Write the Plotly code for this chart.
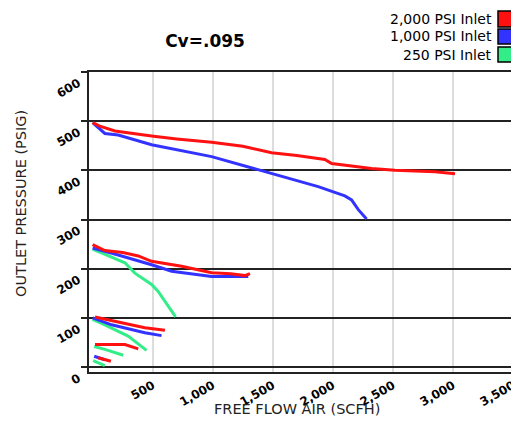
import plotly.graph_objects as go

# ---- data ----
series_names = ["2,000 PSI Inlet", "1,000 PSI Inlet", "250 PSI Inlet"]
series_colors = ["#ff1111", "#3333ff", "#33ee88"]

# 2,000 PSI inlet curves (flow SCFH, outlet PSIG)
red_500_x = [0, 60, 186, 300, 491, 700, 991, 1250, 1490, 1700, 1934, 1990, 2150, 2323, 2517, 2700, 2850, 3017]
red_500_y = [497, 490, 480, 476, 470, 464, 457, 449, 436, 430, 422, 414, 409, 404, 400, 398, 397, 393]
red_250_x = [0, 102, 250, 380, 491, 741, 991, 1150, 1268, 1310]
red_250_y = [249, 237, 233, 226, 215, 205, 192, 190, 186, 190]
red_100_x = [20, 158, 300, 435, 602]
red_100_y = [102, 95, 88, 80, 75]
red_50_x = [20, 150, 269, 380]
red_50_y = [46, 46, 46, 37]
red_25_x = [47, 152]
red_25_y = [19, 12]

# 1,000 PSI inlet curves
blue_500_x = [0, 102, 213, 491, 991, 1379, 1600, 1878, 2100, 2156, 2212, 2281]
blue_500_y = [497, 475, 472, 452, 428, 401, 386, 367, 348, 340, 320, 301]
blue_250_x = [0, 213, 491, 658, 991, 1296]
blue_250_y = [242, 228, 208, 195, 184, 184]
blue_100_x = [0, 158, 435, 574]
blue_100_y = [100, 86, 70, 64]
blue_25_x = [13, 102]
blue_25_y = [22, 15]

# 250 PSI inlet curves
green_250_x = [0, 213, 269, 352, 491, 546, 630, 691]
green_250_y = [240, 218, 212, 191, 168, 154, 124, 102]
green_100_x = [0, 102, 296, 449]
green_100_y = [97, 86, 63, 34]
green_50_x = [13, 102, 255]
green_50_y = [42, 36, 24]
green_25_x = [5, 102]
green_25_y = [13, 3]

x_ticks = [500, 1000, 1500, 2000, 2500, 3000, 3500]
x_ticklabels = ["500", "1,000", "1,500", "2,000", "2,500", "3,000", "3,500"]
y_ticks = [0, 100, 200, 300, 400, 500, 600]
y_ticklabels = ["0", "100", "200", "300", "400", "500", "600"]

segments = [
    (0, red_500_x, red_500_y), (0, red_250_x, red_250_y), (0, red_100_x, red_100_y),
    (0, red_50_x, red_50_y), (0, red_25_x, red_25_y),
    (1, blue_500_x, blue_500_y), (1, blue_250_x, blue_250_y), (1, blue_100_x, blue_100_y),
    (1, blue_25_x, blue_25_y),
    (2, green_250_x, green_250_y), (2, green_100_x, green_100_y),
    (2, green_50_x, green_50_y), (2, green_25_x, green_25_y),
]

fig = go.Figure()
# draw green first, then blue, then red on top
for idx in [2, 1, 0]:
    for s, xs, ys in segments:
        if s != idx:
            continue
        fig.add_trace(go.Scatter(
            x=xs, y=ys, mode="lines", name=series_names[s],
            line=dict(color=series_colors[s], width=3, shape="linear"),
            showlegend=False, hoverinfo="skip"))

# page offset of the figure (default body margin)
OFF = 8
PW, PH = 519, 436
FW, FH = PW - OFF, PH - OFF
# plot area in page pixels: x 89..513, y 72..372
L, R, T, B = 89, 513, 72, 372
W, H = R - L, B - T
def px(x):
    return (x - L) / W
def py(y):
    return (B - y) / H

FONT = "DejaVu Sans"
shapes = []
annotations = []
# legend (text left, swatch right)
leg_rows = [(11, 27), (29, 44), (47, 62)]
for i, (y0, y1) in enumerate(leg_rows):
    shapes.append(dict(type="rect", xref="paper", yref="paper",
                       x0=px(498), x1=px(513), y0=py(y1), y1=py(y0),
                       fillcolor=series_colors[i], line=dict(color="black", width=1.5)))
    annotations.append(dict(xref="paper", yref="paper", x=px(494), y=py((y0 + y1) / 2),
                            text=series_names[i], showarrow=False, xanchor="right",
                            yanchor="middle", font=dict(family=FONT, size=14, color="black")))

# axis titles
annotations.append(dict(xref="paper", yref="paper", x=px(297), y=py(409),
                        text="FREE FLOW AIR (SCFH)", showarrow=False, xanchor="center",
                        yanchor="middle", font=dict(family=FONT, size=14.5, color="#222")))
annotations.append(dict(xref="paper", yref="paper", x=px(21), y=py(204),
                        text="OUTLET PRESSURE (PSIG)", showarrow=False, textangle=-90,
                        xanchor="center", yanchor="middle",
                        font=dict(family=FONT, size=14.5, color="#222")))

fig.update_layout(
    width=FW, height=FH,
    margin=dict(l=L - OFF, r=PW - R, t=T - OFF, b=PH - B, pad=0, autoexpand=False),
    paper_bgcolor="white", plot_bgcolor="white",
    showlegend=False,
    title=dict(text="<b>Cv=.095</b>", x=(205 - OFF) / FW, y=1 - (41 - OFF) / FH, xref="container",
               yref="container", xanchor="center", yanchor="middle",
               font=dict(family=FONT, size=17, color="black")),
    shapes=shapes, annotations=annotations,
    xaxis=dict(range=[-30, 3500], tickvals=x_ticks, ticktext=x_ticklabels, tickangle=-30,
               automargin=False,
               showgrid=True, gridcolor="#dddddd", gridwidth=1.5, zeroline=False,
               showline=True, linecolor="#222", linewidth=2, mirror=True, ticks="",
               tickfont=dict(family=FONT, size=12, color="black", weight="bold")),
    yaxis=dict(range=[-10, 600], tickvals=y_ticks, ticktext=y_ticklabels, tickangle=-30,
               automargin=False, ticklabelshift=10,
               showgrid=True, gridcolor="#222", gridwidth=1.5, zeroline=False,
               showline=True, linecolor="#222", linewidth=2, mirror=True,
               ticks="outside", ticklen=6, tickcolor="#222", tickwidth=2,
               tickfont=dict(family=FONT, size=12, color="black", weight="bold")),
)

fig.write_html("out.html")
